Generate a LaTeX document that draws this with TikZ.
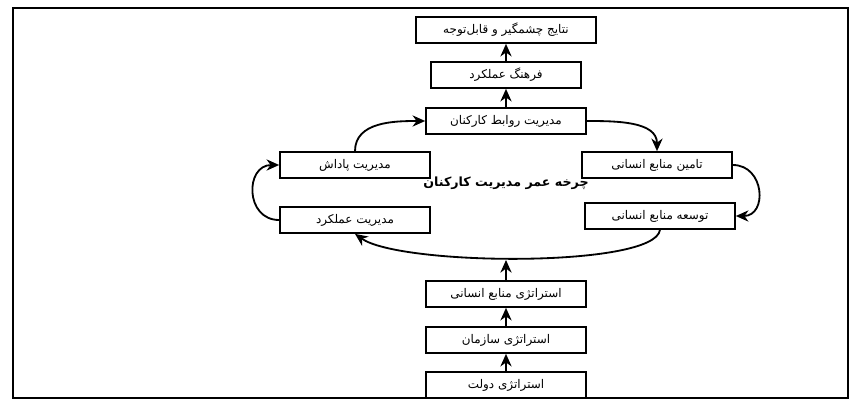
\documentclass[tikz,border=0pt]{standalone}
\usepackage{fontspec}
\TeXXeTstate=1
\newfontfamily\arabicfont[Script=Arabic]{DejaVu Sans}
\usetikzlibrary{arrows.meta}
\tikzset{
  stagebox/.style={draw,line width=1.2pt,minimum width=150\unitpx,minimum height=26\unitpx,inner sep=0pt,font=\arabicfont\fontsize{8.5}{10}\selectfont},
  flow/.style={line width=1.3pt,-{Stealth[length=9pt,width=8pt]}}
}
\newlength{\unitpx}\setlength{\unitpx}{0.025cm}
\newcommand{\fa}[1]{\beginR #1\endR}
\begin{document}
\begin{tikzpicture}[x=0.025cm,y=-0.025cm]
  \useasboundingbox (0,0) rectangle (862,402);
  \draw[line width=1.5pt] (13,8) rectangle (848,398);
  % top column
  \node[stagebox,minimum width=180\unitpx] (result) at (506,30) {\fa{نتایج چشمگیر و قابل‌توجه}};
  \node[stagebox] (culture) at (506,75) {\fa{فرهنگ عملکرد}};
  \node[stagebox,minimum width=160\unitpx] (relation) at (506,121) {\fa{مدیریت روابط کارکنان}};
  % cycle
  \node[stagebox] (reward) at (355,165) {\fa{مدیریت پاداش}};
  \node[stagebox] (supply) at (657,165) {\fa{تامین منابع انسانی}};
  \node[stagebox] (perform) at (355,220) {\fa{مدیریت عملکرد}};
  \node[stagebox] (develop) at (660,216) {\fa{توسعه منابع انسانی}};
  \node[font=\arabicfont\bfseries\fontsize{9}{10}\selectfont] (cycle) at (506,183) {\fa{چرخه عمر مدیریت کارکنان}};
  % bottom column
  \node[stagebox,minimum width=160\unitpx] (hrstrat) at (506,294) {\fa{استراتژی منابع انسانی}};
  \node[stagebox,minimum width=160\unitpx] (orgstrat) at (506,340) {\fa{استراتژی سازمان}};
  \node[stagebox,minimum width=160\unitpx] (govstrat) at (506,385) {\fa{استراتژی دولت}};
  \coordinate (meet) at (506,260);
  \draw[flow] (govstrat) -- (orgstrat);
  \draw[flow] (orgstrat) -- (hrstrat);
  \draw[flow] (hrstrat) -- (meet);
  \draw[flow] (relation) -- (culture);
  \draw[flow] (culture) -- (result);
  \draw[flow] (relation.east) to[out=0,in=90] (supply.north);
  \draw[flow] (supply.east) to[out=0,in=0,looseness=1.6] (develop.east);
  \draw[flow] (develop.south) .. controls (655,268) and (400,266) .. (perform.south);
  \draw[flow] (perform.west) to[out=180,in=180,looseness=1.6] (reward.west);
  \draw[flow] (reward.north) to[out=90,in=180] (relation.west);
\end{tikzpicture}
\end{document}
